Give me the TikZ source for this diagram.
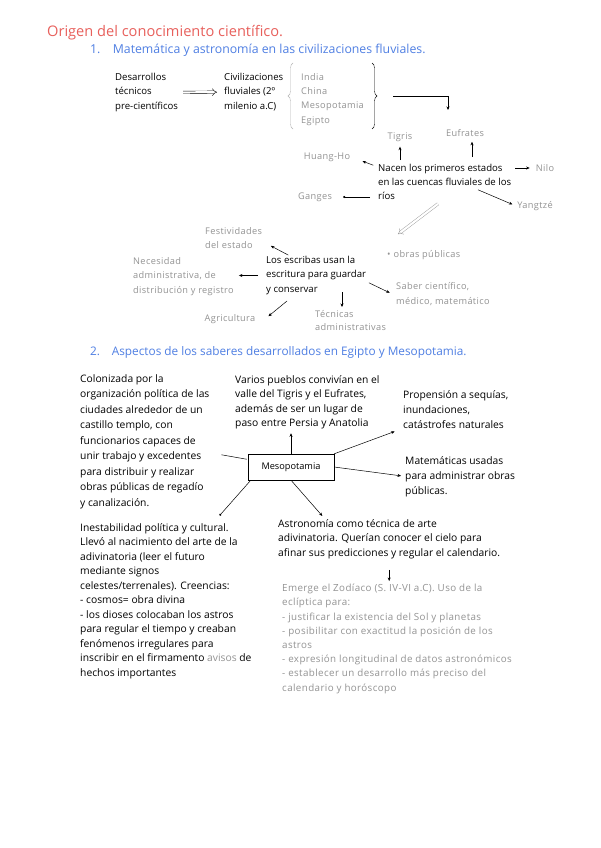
\documentclass[tikz,border=0pt]{standalone}
\usepackage{fontspec}
\setmainfont{Open Sans}
\newfontfamily\notefont[LetterSpace=4]{Open Sans}
\usetikzlibrary{arrows.meta,decorations.pathreplacing}
\definecolor{titlered}{HTML}{E8605C}
\definecolor{headblue}{HTML}{4F7FE3}
\definecolor{notegray}{HTML}{939393}

\begin{document}
\begin{tikzpicture}[
    x=1pt,y=-1pt,
    >={Stealth[length=3.5pt,width=3pt]},
    txt/.style={anchor=north west,inner sep=0pt,align=left,font=\fontsize{9.6}{14.5}\selectfont},
    note/.style={txt,text=notegray,font=\notefont\fontsize{9.2}{14.5}\selectfont},
    word/.style={inner sep=1pt,text=notegray,font=\notefont\fontsize{9.2}{11}\selectfont},
    arr/.style={->,line width=0.5pt},
    dotarr/.style={-{Circle[length=2.2pt]},line width=0.5pt},
    dblarr/.style={double,double distance=2.2pt,-{Implies},line width=0.4pt},
]
\fill[white] (0,0) rectangle (600,848);
\useasboundingbox (0,0) rectangle (600,848);

% Titles
\node[anchor=west,inner sep=0pt,font=\fontsize{14.6}{16}\selectfont,text=titlered] (title) at (47,33) {Origen del conocimiento científico.};
\node[anchor=west,inner sep=0pt,font=\fontsize{12.3}{14}\selectfont,text=headblue] (sec1) at (90,50) {1.\quad Matemática y astronomía en las civilizaciones fluviales.};

% Civilizaciones fluviales
\node[txt] (desarrollos) at (115,73) {Desarrollos\\técnicos\\pre-científicos};
\node[txt] (civil) at (224,73) {Civilizaciones\\fluviales (2º\\milenio a.C)};
\node[note,font=\notefont\fontsize{9.2}{14.3}\selectfont] (paises) at (301,73) {India\\China\\Mesopotamia\\Egipto};
\draw[dblarr,shorten <=5pt,shorten >=7pt] (desarrollos.east) -- (civil.west);
\draw[notegray!70,decorate,decoration={brace,amplitude=5pt}] (293,129) -- (293,63);
\draw[decorate,decoration={brace,amplitude=5pt}] (372,63) -- (372,129);
\coordinate (rtip) at (377,96);
\coordinate (bend) at (448,110);
\draw[arr] ([xshift=16pt]rtip) -| (bend);

% Rios
\node[txt,font=\fontsize{9.6}{14}\selectfont] (nacen) at (378,164) {Nacen los primeros estados\\en las cuencas fluviales de los\\ríos};
\node[word] (tigris) at (400,137) {Tigris};
\node[word] (eufrates) at (465,133) {Eufrates};
\node[word] (huang) at (327,157) {Huang-Ho};
\node[word] (nilo) at (545,168) {Nilo};
\node[word] (ganges) at (315,197) {Ganges};
\node[word] (yangtze) at (535,206) {Yangtzé};
\draw[arr,shorten <=4pt,shorten >=4pt] (nacen.north -| tigris) -- (tigris);
\draw[arr,shorten <=7pt,shorten >=4pt] ([xshift=7pt]nacen.north -| eufrates) -- ([xshift=7pt]eufrates.south);
\draw[arr,shorten <=5pt,shorten >=12pt] ([yshift=-3pt]nacen.north west) -- (huang.east);
\draw[arr,shorten <=4pt,shorten >=5pt] (nilo.west -| nacen.east) -- (nilo.west);
\draw[dotarr,shorten <=8pt,shorten >=10pt] (ganges.east -| nacen.west) -- (ganges.east);
\draw[arr,shorten >=4pt] ([xshift=100pt,yshift=10pt]nacen.south west) -- (yangtze.west);

% Escribas
\node[txt] (escribas) at (266,256) {Los escribas usan la\\escritura para guardar\\y conservar};
\node[note,font=\notefont\fontsize{9.2}{14}\selectfont] (fiestas) at (205,227) {Festividades\\del estado};
\node[note] (necesidad) at (133,257) {Necesidad\\administrativa, de\\distribución y registro};
\node[word] (agricultura) at (230,319) {Agricultura};
\node[note,font=\notefont\fontsize{9.2}{13}\selectfont] (tecnicas) at (315,310) {Técnicas\\administrativas};
\node[note,font=\notefont\fontsize{9.2}{15}\selectfont] (saber) at (396,282) {Saber científico,\\médico, matemático};
\node[word,anchor=west] (obras) at (386,255) {•\,\,obras públicas};
\draw[dblarr,notegray] ([xshift=60pt,yshift=-4pt]nacen.south west) -- ([xshift=12pt,yshift=15pt]obras.north west);
\draw[arr,shorten <=2pt,shorten >=3pt] ([xshift=24pt]escribas.north west) -- ([xshift=6pt,yshift=4pt]fiestas.south east);
\draw[arr,shorten <=8pt,shorten >=5pt] (escribas.west) -- (escribas.west -| necesidad.east);
\draw[arr] ([xshift=21pt,yshift=-6pt]escribas.south west) -- ([xshift=12pt,yshift=-3pt]agricultura.north east);
\draw[arr] ([xshift=27pt,yshift=18pt]tecnicas.north west) -- ([xshift=27pt,yshift=3pt]tecnicas.north west);
\draw[arr,shorten <=3pt,shorten >=7pt] ([yshift=-6pt]escribas.east) -- ([yshift=-2pt]saber.west);

% Egipto y Mesopotamia
\node[anchor=west,inner sep=0pt,font=\fontsize{11.8}{14}\selectfont,text=headblue] (sec2) at (90,352) {2.\quad Aspectos de los saberes desarrollados en Egipto y Mesopotamia.};
\node[draw,inner sep=0pt,minimum width=86pt,minimum height=26pt,font=\fontsize{9.2}{11}\selectfont] (meso) at (291,467) {Mesopotamia};
\node[txt,font=\fontsize{10.3}{15.5}\selectfont] (colonizada) at (80,374) {Colonizada por la\\organización política de las\\ciudades alrededor de un\\castillo templo, con\\funcionarios capaces de\\unir trabajo y excedentes\\para distribuir y realizar\\obras públicas de regadío\\y canalización.};
\node[txt,font=\fontsize{10.3}{14.5}\selectfont] (varios) at (235,375) {Varios pueblos convivían en el\\valle del Tigris y el Eufrates,\\además de ser un lugar de\\paso entre Persia y Anatolia};
\node[txt,font=\fontsize{10.3}{15}\selectfont] (propension) at (403,390) {Propensión a sequías,\\inundaciones,\\catástrofes naturales};
\node[txt,font=\fontsize{10.3}{15}\selectfont] (matematicas) at (405,456) {Matemáticas usadas\\para administrar obras\\públicas.};
\node[txt,font=\fontsize{10.3}{14.5}\selectfont] (inestabilidad) at (80,523) {Inestabilidad política y cultural.\\Llevó al nacimiento del arte de la\\adivinatoria (leer el futuro\\mediante signos\\celestes/terrenales). Creencias:\\- cosmos= obra divina\\- los dioses colocaban los astros\\para regular el tiempo y creaban\\fenómenos irregulares para\\inscribir en el firmamento \textcolor{notegray}{avisos} de\\hechos importantes};
\node[txt,font=\fontsize{10.3}{14.5}\selectfont] (astronomia) at (278,519) {Astronomía como técnica de arte\\adivinatoria. Querían conocer el cielo para\\afinar sus predicciones y regular el calendario.};
\node[note,font=\notefont\fontsize{9.8}{14.2}\selectfont] (zodiaco) at (282,584) {Emerge el Zodíaco (S. IV-VI a.C). Uso de la\\eclíptica para:\\- justificar la existencia del Sol y planetas\\- posibilitar con exactitud la posición de los\\astros\\- expresión longitudinal de datos astronómicos\\- establecer un desarrollo más preciso del\\calendario y horóscopo};
\draw[line width=0.5pt,shorten <=1pt,shorten >=12pt] (meso) -- (colonizada);
\draw[arr,shorten >=4pt] (meso.north) -- (meso.north |- varios.south);
\draw[arr,shorten >=9pt] (meso.north east) -- (propension.south west);
\draw[arr,shorten >=4pt] (meso.east) -- (matematicas.west);
\draw[dotarr,shorten >=10pt] ([xshift=3pt]meso.south west) -- ([xshift=133pt]inestabilidad.north west);
\draw[arr,shorten >=4pt] (meso.south) -- ([xshift=47pt]astronomia.north west);
\draw[arr,shorten <=11pt,shorten >=3pt] (astronomia.south) -- (astronomia.south |- zodiaco.north);
\end{tikzpicture}
\end{document}
